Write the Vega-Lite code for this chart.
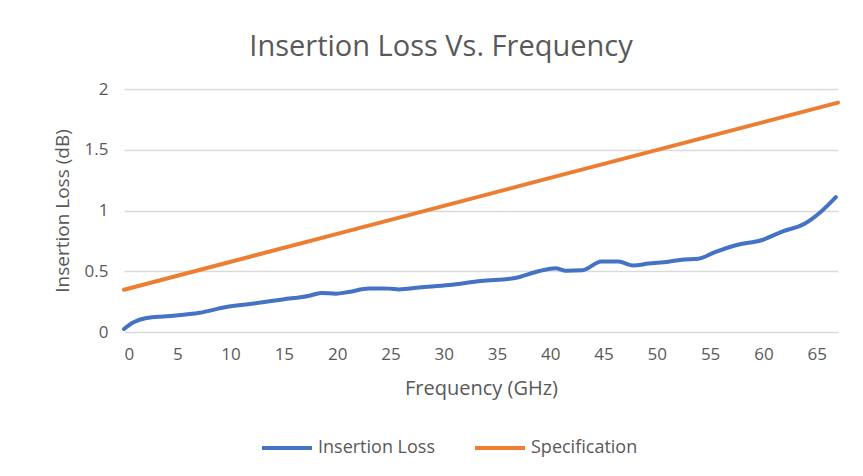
{
  "$schema": "https://vega.github.io/schema/vega-lite/v6.json",
  "width": 714,
  "height": 243,
  "autosize": {"type": "none"},
  "padding": {"left": 124, "top": 89, "right": 25, "bottom": 144},
  "background": "white",
  "title": {
    "text": "Insertion Loss Vs. Frequency",
    "font": "Open Sans",
    "fontSize": 29,
    "fontWeight": "normal",
    "color": "#595959",
    "anchor": "middle",
    "dx": -40,
    "offset": 18
  },
  "config": {
    "view": {"stroke": null},
    "font": "Open Sans"
  },
  "data": {
    "values": [
      {"freq": 0, "loss": 0.025, "series": "Insertion Loss"},
      {"freq": 0.9, "loss": 0.08, "series": "Insertion Loss"},
      {"freq": 2.1, "loss": 0.115, "series": "Insertion Loss"},
      {"freq": 4.0, "loss": 0.13, "series": "Insertion Loss"},
      {"freq": 7.1, "loss": 0.158, "series": "Insertion Loss"},
      {"freq": 9.6, "loss": 0.205, "series": "Insertion Loss"},
      {"freq": 11.8, "loss": 0.23, "series": "Insertion Loss"},
      {"freq": 14.9, "loss": 0.268, "series": "Insertion Loss"},
      {"freq": 17.4, "loss": 0.298, "series": "Insertion Loss"},
      {"freq": 18.5, "loss": 0.322, "series": "Insertion Loss"},
      {"freq": 19.9, "loss": 0.315, "series": "Insertion Loss"},
      {"freq": 21.1, "loss": 0.33, "series": "Insertion Loss"},
      {"freq": 23.0, "loss": 0.358, "series": "Insertion Loss"},
      {"freq": 24.9, "loss": 0.357, "series": "Insertion Loss"},
      {"freq": 25.8, "loss": 0.35, "series": "Insertion Loss"},
      {"freq": 27.7, "loss": 0.366, "series": "Insertion Loss"},
      {"freq": 30.5, "loss": 0.386, "series": "Insertion Loss"},
      {"freq": 33.5, "loss": 0.42, "series": "Insertion Loss"},
      {"freq": 36.7, "loss": 0.444, "series": "Insertion Loss"},
      {"freq": 38.9, "loss": 0.5, "series": "Insertion Loss"},
      {"freq": 40.5, "loss": 0.525, "series": "Insertion Loss"},
      {"freq": 41.4, "loss": 0.505, "series": "Insertion Loss"},
      {"freq": 43.0, "loss": 0.508, "series": "Insertion Loss"},
      {"freq": 44.8, "loss": 0.58, "series": "Insertion Loss"},
      {"freq": 46.4, "loss": 0.58, "series": "Insertion Loss"},
      {"freq": 47.8, "loss": 0.547, "series": "Insertion Loss"},
      {"freq": 49.2, "loss": 0.563, "series": "Insertion Loss"},
      {"freq": 51.1, "loss": 0.578, "series": "Insertion Loss"},
      {"freq": 52.3, "loss": 0.595, "series": "Insertion Loss"},
      {"freq": 53.9, "loss": 0.603, "series": "Insertion Loss"},
      {"freq": 55.4, "loss": 0.655, "series": "Insertion Loss"},
      {"freq": 57.6, "loss": 0.718, "series": "Insertion Loss"},
      {"freq": 59.8, "loss": 0.755, "series": "Insertion Loss"},
      {"freq": 61.7, "loss": 0.825, "series": "Insertion Loss"},
      {"freq": 63.9, "loss": 0.893, "series": "Insertion Loss"},
      {"freq": 65.4, "loss": 0.99, "series": "Insertion Loss"},
      {"freq": 66.8, "loss": 1.11, "series": "Insertion Loss"},
      {"freq": 0, "loss": 0.348, "series": "Specification"},
      {"freq": 20, "loss": 0.808, "series": "Specification"},
      {"freq": 40, "loss": 1.268, "series": "Specification"},
      {"freq": 67, "loss": 1.888, "series": "Specification"}
    ]
  },
  "mark": {"type": "line", "strokeWidth": 4, "strokeCap": "round", "strokeJoin": "round", "interpolate": "monotone"},
  "encoding": {
    "x": {
      "field": "freq",
      "type": "quantitative",
      "scale": {"domain": [0, 67], "nice": false},
      "axis": {
        "title": "Frequency (GHz)",
        "values": [0, 5, 10, 15, 20, 25, 30, 35, 40, 45, 50, 55, 60, 65],
        "grid": false,
        "domain": false,
        "ticks": false,
        "labelPadding": 14,
        "labelFontSize": 17,
        "labelColor": "#595959",
        "labelFont": "Open Sans",
        "titleFont": "Open Sans",
        "titleFontSize": 20,
        "titleFontWeight": "normal",
        "titleColor": "#595959",
        "titlePadding": 16
      }
    },
    "y": {
      "field": "loss",
      "type": "quantitative",
      "scale": {"domain": [0, 2], "nice": false},
      "axis": {
        "title": "Insertion Loss (dB)",
        "values": [0, 0.5, 1, 1.5, 2],
        "labelExpr": "'' + datum.value",
        "grid": true,
        "gridColor": "#d9d9d9",
        "gridWidth": 1.5,
        "domain": false,
        "ticks": false,
        "labelPadding": 16,
        "labelFontSize": 17,
        "labelColor": "#595959",
        "labelFont": "Open Sans",
        "titleFont": "Open Sans",
        "titleFontSize": 19,
        "titleFontWeight": "normal",
        "titleColor": "#595959",
        "titlePadding": 12
      }
    },
    "color": {
      "field": "series",
      "type": "nominal",
      "scale": {"domain": ["Insertion Loss", "Specification"], "range": ["#4472C4", "#ED7D31"]},
      "legend": {
        "title": null,
        "orient": "none",
        "direction": "horizontal",
        "legendX": 136,
        "legendY": 332,
        "symbolType": "stroke",
        "symbolSize": 2500,
        "symbolStrokeWidth": 4,
        "labelFontSize": 18,
        "labelColor": "#595959",
        "labelFont": "Open Sans",
        "labelOffset": 4,
        "columnPadding": 32
      }
    }
  }
}
